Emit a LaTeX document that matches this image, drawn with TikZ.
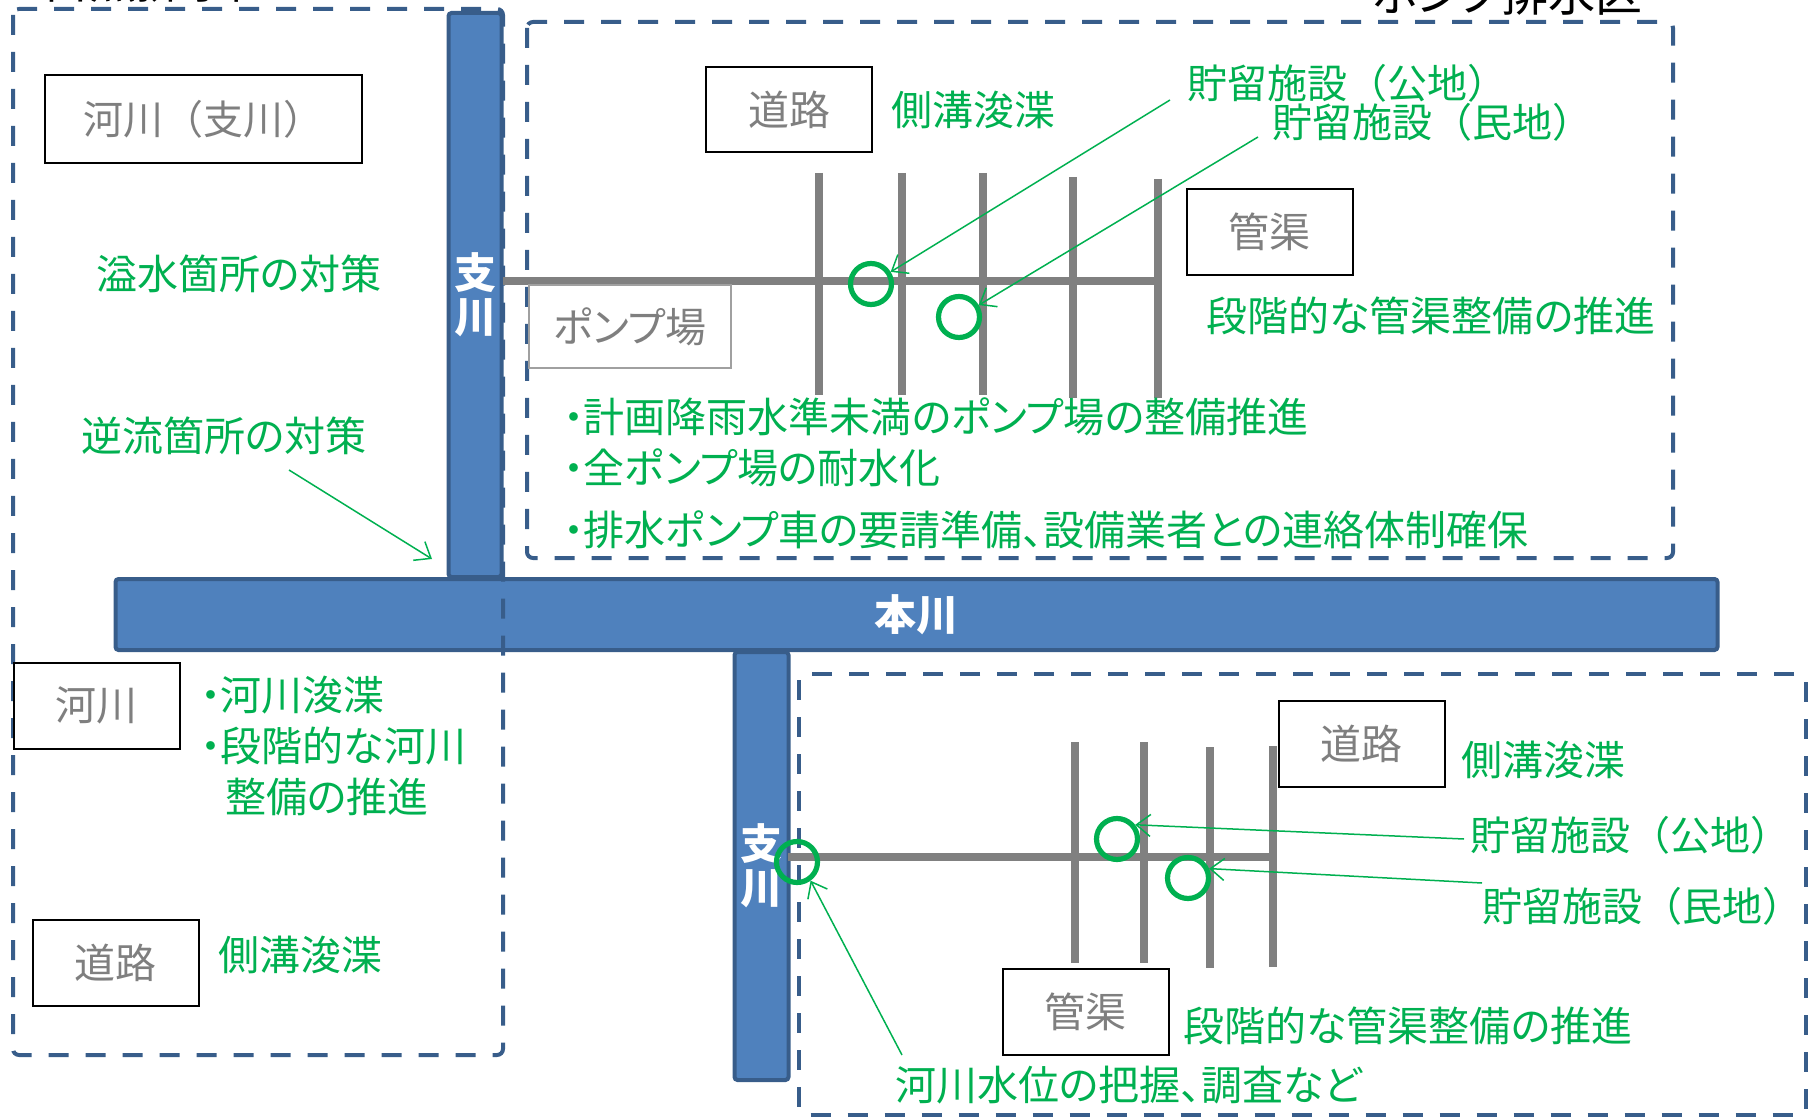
\documentclass[tikz,border=0pt]{standalone}
\usepackage{fontspec}
\newfontfamily\jp[RawFeature=+palt]{Noto Sans CJK JP}
\newfontfamily\jpf{Noto Sans CJK JP}
\usetikzlibrary{arrows.meta}
\definecolor{rivfill}{RGB}{79,129,189}
\definecolor{rivline}{RGB}{56,93,138}
\definecolor{grn}{RGB}{0,176,80}
\definecolor{pipecol}{RGB}{128,128,128}
\definecolor{graytxt}{RGB}{127,127,127}
\definecolor{lightbox}{RGB}{160,160,160}
\begin{document}
\begin{tikzpicture}[x=0.5pt,y=-0.5pt,
  font=\jp\fontsize{20.5}{24}\selectfont,
  river/.style={fill=rivfill, draw=rivline, line width=2pt, rounded corners=1.5pt,
    inner sep=0pt, text=white, font=\jp\bfseries\fontsize{21}{22}\selectfont, align=center},
  area/.style={draw=rivline, line width=2pt, dash pattern=on 10pt off 8.5pt, rounded corners=3pt},
  lbl/.style={draw=black, line width=1pt, fill=white, text=graytxt, inner sep=0pt,
    minimum width=83pt, minimum height=43pt},
  gtxt/.style={text=grn, anchor=west, inner sep=0pt},
  full/.style={font=\jpf\fontsize{20}{24}\selectfont},
  ttl/.style={text=black, anchor=base west, inner sep=0pt, font=\jp\fontsize{23.5}{26}\selectfont},
  pipeline/.style={draw=pipecol, line width=4pt},
  ring/.style={draw=grn, line width=2.6pt, circle, minimum size=20.5pt, inner sep=0pt},
  conn/.style={draw=grn, line width=0.75pt, -{Straight Barb[length=7pt,width=11pt]}}
]
\useasboundingbox (0,0) rectangle (1810,1117);

% titles (cut by the top edge, as in the original)
\node[ttl] (ttlL) at (42,-1) {自然排水区};
\node[ttl] (ttlR) at (1372,12) {ポンプ排水区};

% rivers
\node[river, minimum width=26.5pt, minimum height=282pt] (shiU) at (475,295) {支\\川};
\node[river, minimum width=27pt, minimum height=214pt] (shiD) at (761.5,866) {支\\川};
\node[river, minimum width=801pt, minimum height=35.5pt] (honsen) at (916.5,614.5) {本川};

% drainage areas
\draw[area] (13,9) rectangle (503,1055);
\draw[area] (527,22) rectangle (1673,558);
\draw[area] (799,674) rectangle (1806,1115);

% pipes, upper area
\coordinate (pu0) at (503,281);
\coordinate (pu1) at (1160,281);
\draw[pipeline] (pu0) -- (pu1);
\foreach \x/\t/\b [count=\i] in {819/173/395, 902/173/395, 983/173/395, 1073/177/398, 1158/179/398}{
  \coordinate (vu\i t) at (\x,\t);
  \coordinate (vu\i b) at (\x,\b);
  \draw[pipeline] (vu\i t) -- (vu\i b);
}
% pipes, lower area
\coordinate (pd0) at (788,857);
\coordinate (pd1) at (1275,857);
\draw[pipeline] (pd0) -- (pd1);
\foreach \x/\t/\b [count=\i] in {1075/742/963, 1144/742/963, 1210/747/968, 1273/746/967}{
  \coordinate (vd\i t) at (\x,\t);
  \coordinate (vd\i b) at (\x,\b);
  \draw[pipeline] (vd\i t) -- (vd\i b);
}

% boxes
\node[lbl, full, minimum width=158.5pt, minimum height=44pt] (bKasenShi) at (203.5,119) {河川（支川）};
\node[lbl, minimum height=42.5pt] (bDoroU) at (789,109.5) {道路};
\node[lbl] (bKankyoU) at (1269.5,232) {管渠};
\node[lbl, draw=lightbox, minimum width=101pt, minimum height=41.5pt] (bPump) at (630,326.5) {ポンプ場};
\node[lbl] (bKasen) at (96.5,705.5) {河川};
\node[lbl] (bDoroL) at (115.5,963) {道路};
\node[lbl] (bDoroD) at (1361.5,743.5) {道路};
\node[lbl] (bKankyoD) at (1085.5,1011.5) {管渠};

% rings
\node[ring] (c1) at (871,284) {};
\node[ring] (c2) at (959,317) {};
\node[ring] (cA) at (1117,839) {};
\node[ring] (cB) at (1188,878) {};
\node[ring] (cC) at (797,862) {};

% green texts, upper area
\node[gtxt] (tSokkoU) at (891,110) {側溝浚渫};
\node[gtxt, full] (tKochiU) at (1187,83) {貯留施設（公地）};
\node[gtxt, full] (tMinchiU) at (1272,122) {貯留施設（民地）};
\node[gtxt] (tKankyoU) at (1206,316) {段階的な管渠整備の推進};
\node[gtxt] (tB1) at (563,417) {・計画降雨水準未満のポンプ場の整備推進};
\node[gtxt] (tB2) at (563,468) {・全ポンプ場の耐水化};
\node[gtxt] (tB3) at (563,530) {・排水ポンプ車の要請準備、設備業者との連絡体制確保};
% left area
\node[gtxt] (tIssui) at (96,274) {溢水箇所の対策};
\node[gtxt] (tGyaku) at (81,436) {逆流箇所の対策};
\node[gtxt] (tL1) at (200,695) {・河川浚渫};
\node[gtxt] (tL2) at (200,746) {・段階的な河川};
\node[gtxt] (tL3) at (225,797) {整備の推進};
\node[gtxt] (tSokkoL) at (218,955) {側溝浚渫};
% lower area
\node[gtxt] (tSokkoD) at (1461,760) {側溝浚渫};
\node[gtxt, full] (tKochiD) at (1470,835) {貯留施設（公地）};
\node[gtxt, full] (tMinchiD) at (1482,906) {貯留施設（民地）};
\node[gtxt] (tKankyoD) at (1183,1026) {段階的な管渠整備の推進};
\node[gtxt] (tSuii) at (895,1085) {河川水位の把握、調査など};

% connectors
\coordinate (sKochiU) at (1170,100);
\coordinate (sMinchiU) at (1258,137);
\coordinate (sGyaku) at (289,470);
\coordinate (eGyaku) at (432,559);
\coordinate (sKochiD) at (1464,839);
\coordinate (sMinchiD) at (1482,883);
\coordinate (sSuii) at (902,1055);
\draw[conn] (sKochiU) -- (c1);
\draw[conn] (sMinchiU) -- (c2);
\draw[conn] (sGyaku) -- (eGyaku);
\draw[conn] (sKochiD) -- (cA.38);
\draw[conn] (sMinchiD) -- (cB.24);
\draw[conn] (sSuii) -- (cC.-54);
\end{tikzpicture}
\end{document}
